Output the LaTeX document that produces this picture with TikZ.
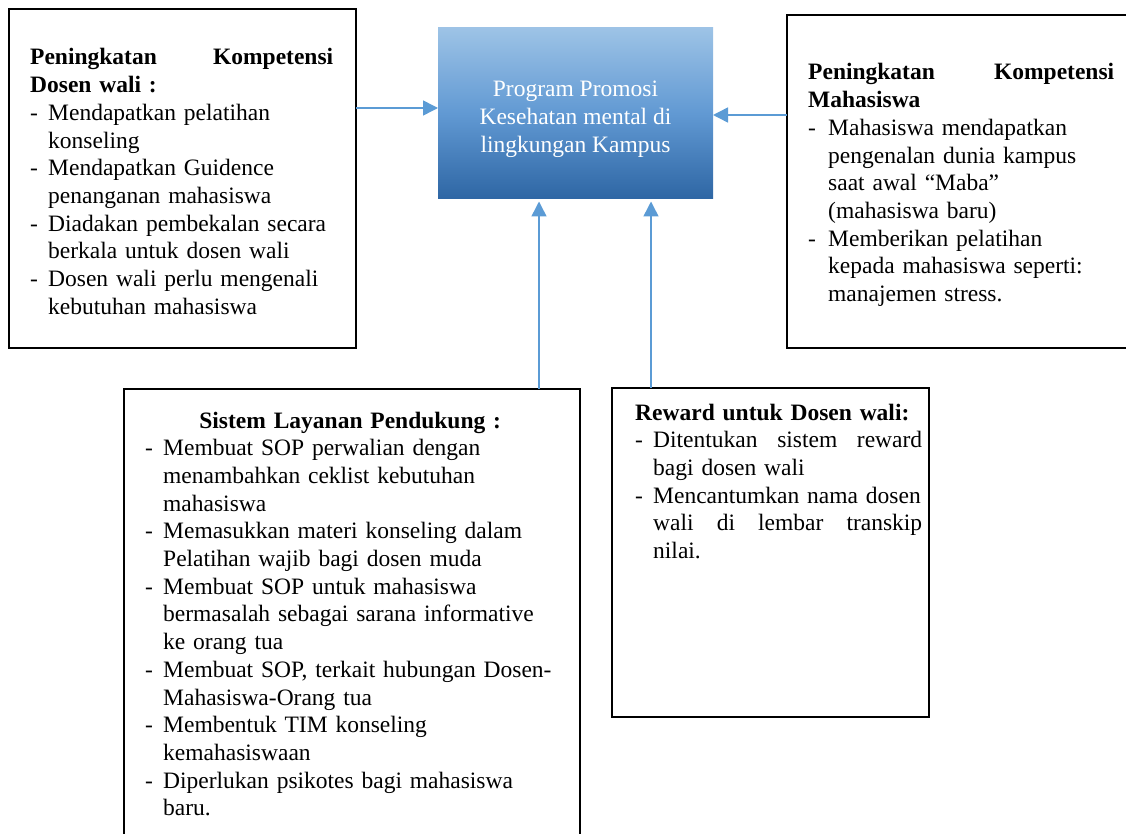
\documentclass[tikz,border=0pt]{standalone}
\usepackage{fontspec}
\setmainfont{Liberation Serif}
\usetikzlibrary{arrows.meta}
\definecolor{arrowblue}{HTML}{5B9BD5}
\definecolor{progtop}{HTML}{9DC3E6}
\definecolor{progmid}{HTML}{6199D3}
\definecolor{progbot}{HTML}{2E66A4}
% dash of a list item, and the indent of its next lines
\newcommand{\itm}{\makebox[18pt][l]{-}}
\newcommand{\cnt}{\hspace*{18pt}}
\newcommand{\itmw}{\makebox[20pt][l]{-}}
\newcommand{\cntw}{\hspace*{20pt}}

\begin{document}
\begin{tikzpicture}[x=1pt, y=-1pt,
    box/.style={draw, line width=2.2pt, inner sep=0pt, outer sep=0pt},
    txt/.style={anchor=base west, text width=450pt, align=left, inner sep=0pt,
        font=\fontsize{23.5}{27.7}\selectfont},
    arr/.style={draw=arrowblue, line width=1.5pt, -{Triangle[length=15pt,width=15pt]}}]
    \path[use as bounding box, clip] (0,0) rectangle (1126,834);

    % boxes
    \node[box, minimum width=347pt, minimum height=339pt] (dosen) at (182.5,178.5) {};
    \node[box, minimum width=353pt, minimum height=333pt] (mhs) at (963.5,181.5) {};
    \node[box, minimum width=456pt, minimum height=461pt] (supp) at (352,619.5) {};
    \node[box, minimum width=317pt, minimum height=329pt] (rwd) at (770.5,552.5) {};
    \node[top color=progtop, bottom color=progbot, middle color=progmid,
        minimum width=275pt, minimum height=171pt, inner sep=0pt, outer sep=0pt,
        text=white, align=center, font=\fontsize{23.5}{28}\selectfont]
        (prog) at (575.5,113.5) {\rule{0pt}{27pt}Program Promosi\\Kesehatan mental di\\lingkungan Kampus};

    % texts
    \node[txt] (dosenTxt) at (30,65) {%
        \makebox[303pt][s]{\bfseries Peningkatan\hfill Kompetensi}\\
        {\bfseries Dosen wali :}\\
        \itm Mendapatkan pelatihan\\
        \cnt konseling\\
        \itm Mendapatkan Guidence\\
        \cnt penanganan mahasiswa\\
        \itm Diadakan pembekalan secara\\
        \cnt berkala untuk dosen wali\\
        \itm Dosen wali perlu mengenali\\
        \cnt kebutuhan mahasiswa};
    \node[txt] (mhsTxt) at (808,80) {%
        \makebox[306pt][s]{\bfseries Peningkatan\hfill Kompetensi}\\
        {\bfseries Mahasiswa}\\
        \itmw Mahasiswa mendapatkan\\
        \cntw pengenalan dunia kampus\\
        \cntw saat awal ``Maba''\\
        \cntw (mahasiswa baru)\\
        \itmw Memberikan pelatihan\\
        \cntw kepada mahasiswa seperti:\\
        \cntw manajemen stress.};
    \node[txt] (suppTxt) at (145,428) {%
        \makebox[410pt]{\bfseries Sistem Layanan Pendukung :}\\
        \itm Membuat SOP perwalian dengan\\
        \cnt menambahkan ceklist kebutuhan\\
        \cnt mahasiswa\\
        \itm Memasukkan materi konseling dalam\\
        \cnt Pelatihan wajib bagi dosen muda\\
        \itm Membuat SOP untuk mahasiswa\\
        \cnt bermasalah sebagai sarana informative\\
        \cnt ke orang tua\\
        \itm Membuat SOP, terkait hubungan Dosen-\\
        \cnt Mahasiswa-Orang tua\\
        \itm Membentuk TIM konseling\\
        \cnt kemahasiswaan\\
        \itm Diperlukan psikotes bagi mahasiswa\\
        \cnt baru.};
    \node[txt] (rwdTxt) at (635,420) {%
        {\bfseries Reward untuk Dosen wali:}\\
        \itm\makebox[269pt][s]{Ditentukan\hfill sistem\hfill reward}\\
        \cnt bagi dosen wali\\
        \itm Mencantumkan nama dosen\\
        \cnt\makebox[269pt][s]{wali\hfill di\hfill lembar\hfill transkip}\\
        \cnt nilai.};

    % arrows into the program
    \draw[arr] (dosen.east |- 0,108) -- (prog.west |- 0,108);
    \draw[arr] (mhs.west |- 0,115) -- (prog.east |- 0,115);
    \draw[arr, shorten >=2.5pt] (supp.north -| 539,0) -- (prog.south -| 539,0);
    \draw[arr, shorten >=2.5pt] (rwd.north -| 651,0) -- (prog.south -| 651,0);
\end{tikzpicture}
\end{document}
